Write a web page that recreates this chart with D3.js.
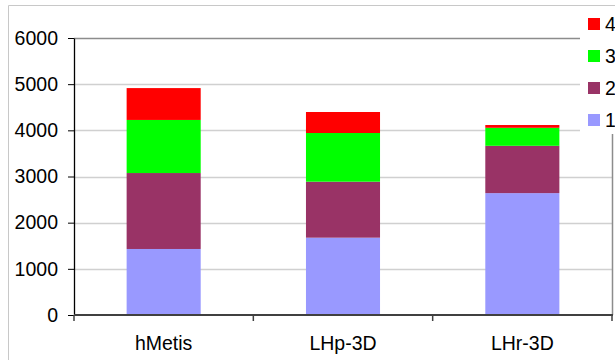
<!DOCTYPE html>
<html>
<head>
<meta charset="utf-8">
<script src="https://cdn.jsdelivr.net/npm/d3@7"></script>
<style>
  html, body { margin: 0; padding: 0; background: #fff; overflow: hidden; }
  svg { display: block; font-family: "Liberation Sans", Arial, sans-serif; }
</style>
</head>
<body>
<svg id="chart" width="615" height="360"></svg>
<script>
// Stacked columns: four components per partitioner
const categories = ["hMetis", "LHp-3D", "LHr-3D"];
const seriesNames = ["1", "2", "3", "4"];
const series1 = [1430, 1675, 2640];
const series2 = [1645, 1213, 1025];
const series3 = [1150, 1054, 390];
const series4 = [690, 455, 60];
const yTicks = [0, 1000, 2000, 3000, 4000, 5000, 6000];
const colors = ["#9999ff", "#993366", "#00ff00", "#ff0000"];

const seriesValues = [series1, series2, series3, series4];
const rows = categories.map((c, i) => {
  const r = { cat: c };
  seriesNames.forEach((s, j) => { r[s] = seriesValues[j][i]; });
  return r;
});

const svg = d3.select("#chart");
const plot = { left: 74, right: 612, top: 38, bottom: 315 };

// one band per category; columns take ~41% of each band
const xBand = d3.scaleBand().domain(categories).range([plot.left, plot.right]);
const barW = xBand.bandwidth() * 0.413;
const barX = c => xBand(c) + (xBand.bandwidth() - barW) / 2;
const y = d3.scaleLinear().domain([0, 6000]).range([plot.bottom, plot.top]);

// outer chart frame
svg.append("path")
  .attr("d", `M8.5,360 V5.5 H615`)
  .attr("fill", "none").attr("stroke", "#c8c8c8").attr("stroke-width", 1);

// gridlines
svg.append("g").selectAll("line").data(yTicks.filter(t => t > 0 && t < 6000)).join("line")
  .attr("x1", plot.left).attr("x2", plot.right)
  .attr("y1", d => Math.round(y(d)) + 0.5).attr("y2", d => Math.round(y(d)) + 0.5)
  .attr("stroke", "#d0d0d0").attr("stroke-width", 1.5);

// plot area border (top and right)
svg.append("path")
  .attr("d", `M${plot.left},${plot.top + 0.5} H${plot.right + 0.5} V${plot.bottom}`)
  .attr("fill", "none").attr("stroke", "#8c8c8c").attr("stroke-width", 1.5);

// stacked bars
const stack = d3.stack().keys(seriesNames)(rows);
svg.append("g").selectAll("g").data(stack).join("g")
  .attr("fill", (d, i) => colors[i])
  .selectAll("rect").data(d => d).join("rect")
  .attr("x", d => barX(d.data.cat))
  .attr("width", barW)
  .attr("y", d => y(d[1]))
  .attr("height", d => y(d[0]) - y(d[1]));

// y axis
const yAxis = d3.axisLeft(y).tickValues(yTicks).tickFormat(d3.format("d"))
  .tickSize(6).tickPadding(10).tickSizeOuter(0);
const gy = svg.append("g").attr("transform", `translate(${plot.left},0)`).call(yAxis);
gy.select(".domain").attr("stroke", "#000").attr("stroke-width", 1.3);
gy.selectAll(".tick line").attr("stroke", "#000");
gy.selectAll(".tick text").attr("font-size", 19.5).attr("fill", "#000")
  .attr("font-family", "Liberation Sans, Arial, sans-serif");

// x axis with ticks at category boundaries
const gx = svg.append("g").attr("transform", `translate(0,${plot.bottom})`);
gx.append("line").attr("x1", plot.left).attr("x2", plot.right + 1)
  .attr("stroke", "#404040").attr("stroke-width", 2);
const bounds = categories.map(c => xBand(c)).concat([plot.right]);
gx.selectAll("line.b").data(bounds).join("line").attr("class", "b")
  .attr("x1", d => d).attr("x2", d => d).attr("y1", 0).attr("y2", 6)
  .attr("stroke", "#404040").attr("stroke-width", 1.5);
gx.selectAll("text").data(categories).join("text")
  .attr("x", d => xBand(d) + xBand.bandwidth() / 2)
  .attr("y", 35)
  .attr("text-anchor", "middle")
  .attr("font-size", 19.5).attr("fill", "#000")
  .text(d => d);

// legend
const lg = svg.append("g");
lg.append("rect").attr("x", 580).attr("y", 6).attr("width", 40).attr("height", 128).attr("fill", "#fff");
const legendItems = seriesNames.slice().reverse();
const li = lg.selectAll("g").data(legendItems).join("g")
  .attr("transform", (d, i) => `translate(588,${18 + i * 32})`);
li.append("rect").attr("width", 12).attr("height", 12)
  .attr("fill", d => colors[seriesNames.indexOf(d)]);
li.append("text").attr("x", 17).attr("y", 13).attr("font-size", 19.5).attr("fill", "#000").text(d => d);
</script>
</body>
</html>
